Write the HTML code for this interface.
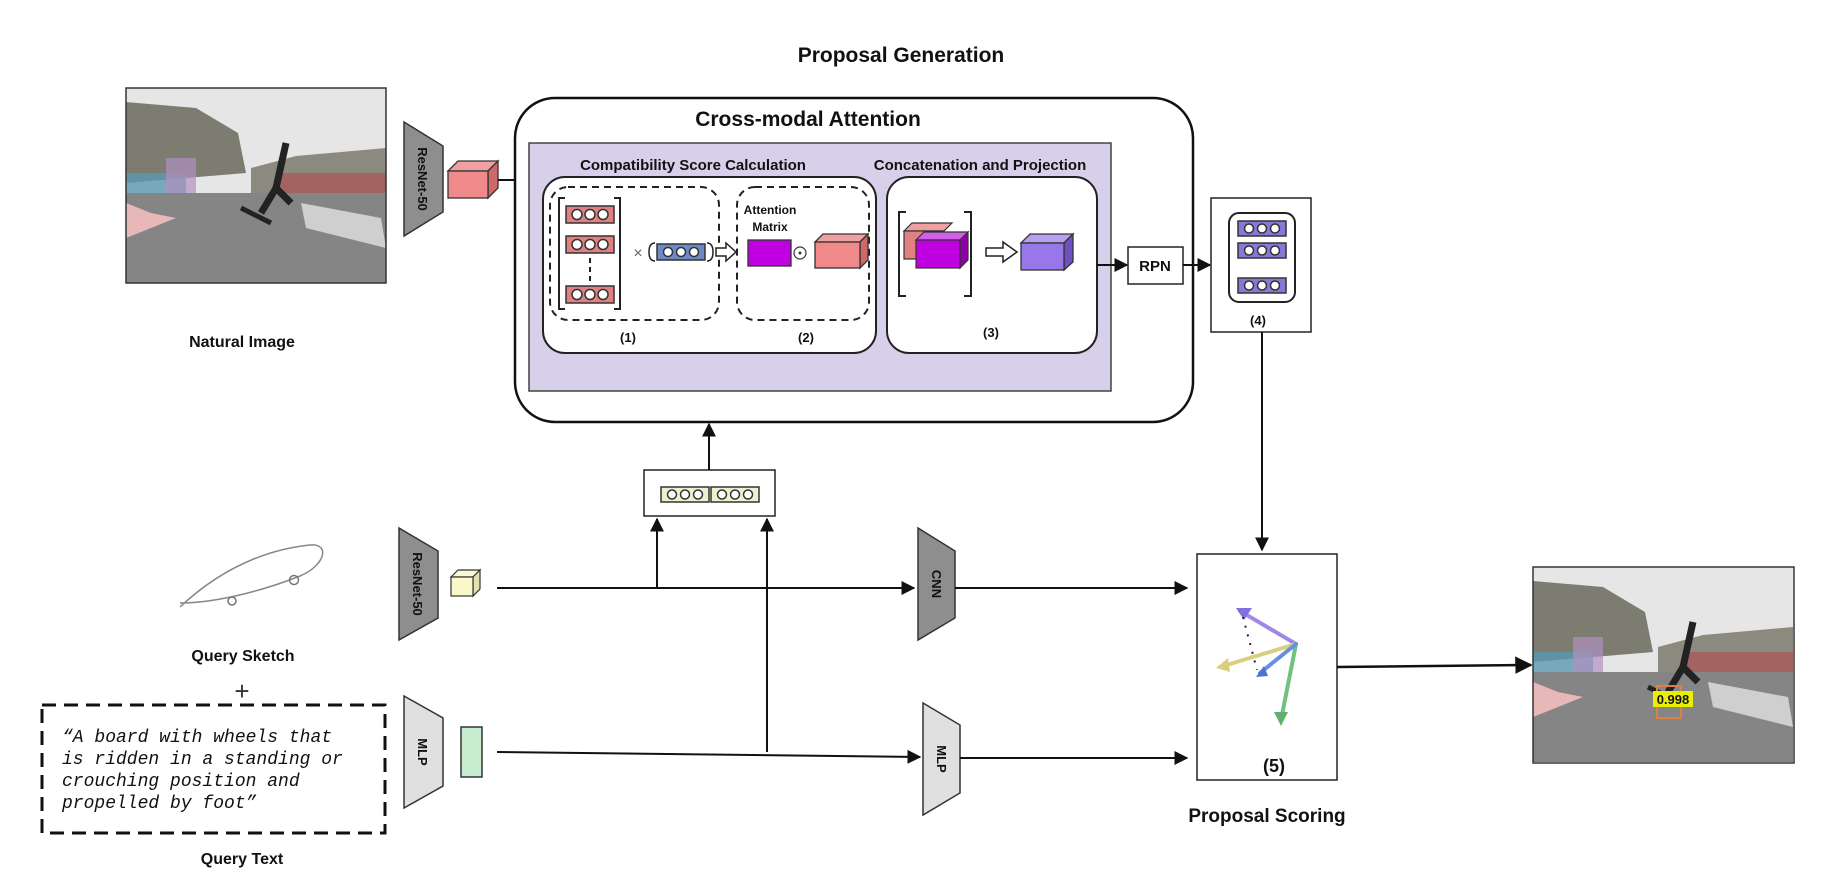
<!DOCTYPE html>
<html><head><meta charset="utf-8"><style>
html,body{margin:0;padding:0;background:#fff;}
svg{display:block;}
.b{font-family:"Liberation Sans",sans-serif;font-weight:bold;fill:#111;}
</style></head><body>
<svg width="1826" height="890" viewBox="0 0 1826 890" xmlns="http://www.w3.org/2000/svg">
<defs>
<marker id="ar" viewBox="0 0 10 10" refX="9" refY="5" markerWidth="7" markerHeight="7" orient="auto-start-reverse"><path d="M0,0 L10,5 L0,10 z" fill="#111"/></marker>
<g id="photo">
<rect x="0" y="0" width="260" height="195" fill="#e6e6e6"/>
<polygon points="0,14 70,20 112,45 120,85 0,95" fill="#7c7c70"/>
<polygon points="125,80 170,68 260,60 260,105 125,105" fill="#8c8a7e"/>
<rect x="150" y="85" width="110" height="25" fill="#a85a5a" opacity="0.8"/>
<rect x="0" y="85" width="60" height="25" fill="#5a9ab0" opacity="0.8"/>
<rect x="40" y="70" width="30" height="35" fill="#b090c0" opacity="0.7"/>
<rect x="0" y="105" width="260" height="90" fill="#858585"/>
<polygon points="0,115 25,125 50,130 0,150" fill="#e8b8b8"/>
<polygon points="175,115 255,130 260,160 180,140" fill="#cfcfcf"/>
<path d="M160,55 L150,100 L135,125 M150,100 L165,115" stroke="#222" stroke-width="7" fill="none"/>
<line x1="115" y1="120" x2="145" y2="135" stroke="#222" stroke-width="5"/>
</g>
<g id="row"><rect x="0" y="0" width="48" height="17" fill="#e08080" stroke="#333" stroke-width="1.5"/><circle cx="11" cy="8.5" r="5" fill="#fff" stroke="#333" stroke-width="1.5"/><circle cx="24" cy="8.5" r="5" fill="#fff" stroke="#333" stroke-width="1.5"/><circle cx="37" cy="8.5" r="5" fill="#fff" stroke="#333" stroke-width="1.5"/></g>
<g id="prow"><rect x="0" y="0" width="48" height="15" fill="#8a78d8" stroke="#333" stroke-width="1.5"/><circle cx="11" cy="7.5" r="4.5" fill="#fff" stroke="#333" stroke-width="1.5"/><circle cx="24" cy="7.5" r="4.5" fill="#fff" stroke="#333" stroke-width="1.5"/><circle cx="37" cy="7.5" r="4.5" fill="#fff" stroke="#333" stroke-width="1.5"/></g>
<g id="yrow"><rect x="0" y="0" width="48" height="15" fill="#eef0d0" stroke="#333" stroke-width="1.5"/><circle cx="11" cy="7.5" r="4.5" fill="#fff" stroke="#333" stroke-width="1.5"/><circle cx="24" cy="7.5" r="4.5" fill="#fff" stroke="#333" stroke-width="1.5"/><circle cx="37" cy="7.5" r="4.5" fill="#fff" stroke="#333" stroke-width="1.5"/></g>
</defs>

<text class="b" x="901" y="62" font-size="21" text-anchor="middle">Proposal Generation</text>

<!-- natural image -->
<g transform="translate(126,88)"><use href="#photo"/></g>
<rect x="126" y="88" width="260" height="195" fill="none" stroke="#333" stroke-width="1.5"/>
<text class="b" x="242" y="347" font-size="16" text-anchor="middle">Natural Image</text>

<!-- ResNet top -->
<polygon points="404,122 443,146 443,212 404,236" fill="#8e8e8e" stroke="#333" stroke-width="1.5"/>
<text class="b" x="0" y="0" font-size="13" text-anchor="middle" transform="translate(418,179) rotate(90)">ResNet-50</text>
<!-- pink cube -->
<polygon points="448,171 458,161 498,161 488,171" fill="#f0a0a0" stroke="#333" stroke-width="1.3"/>
<polygon points="488,171 498,161 498,188 488,198" fill="#d06868" stroke="#333" stroke-width="1.3"/>
<rect x="448" y="171" width="40" height="27" fill="#f08a8a" stroke="#333" stroke-width="1.3"/>
<line x1="498" y1="180" x2="515" y2="180" stroke="#111" stroke-width="2"/>

<!-- outer box -->
<rect x="515" y="98" width="678" height="324" rx="40" fill="#fff" stroke="#111" stroke-width="2.5"/>
<text class="b" x="808" y="126" font-size="21" text-anchor="middle">Cross-modal Attention</text>
<rect x="529" y="143" width="582" height="248" fill="#d8d0ea" stroke="#444" stroke-width="1.5"/>
<text class="b" x="693" y="170" font-size="15" text-anchor="middle">Compatibility Score Calculation</text>
<text class="b" x="980" y="170" font-size="15" text-anchor="middle">Concatenation and Projection</text>
<rect x="543" y="177" width="333" height="176" rx="22" fill="#fff" stroke="#222" stroke-width="2"/>
<rect x="887" y="177" width="210" height="176" rx="22" fill="#fff" stroke="#222" stroke-width="2"/>
<rect x="550" y="187" width="169" height="133" rx="18" fill="none" stroke="#222" stroke-width="2" stroke-dasharray="7,5"/>
<rect x="737" y="187" width="132" height="133" rx="18" fill="none" stroke="#222" stroke-width="2" stroke-dasharray="7,5"/>
<!-- bracket -->
<path d="M565,198 L559,198 L559,309 L565,309 M614,198 L620,198 L620,309 L614,309" fill="none" stroke="#222" stroke-width="2"/>
<use href="#row" x="566" y="206"/><use href="#row" x="566" y="236"/><use href="#row" x="566" y="286"/>
<line x1="590" y1="258" x2="590" y2="282" stroke="#222" stroke-width="2" stroke-dasharray="5,4"/>
<text x="638" y="258" font-family="Liberation Sans,sans-serif" font-size="16" fill="#666" text-anchor="middle">×</text>
<path d="M655,243 Q649,243 649,252 Q649,261 655,261 M707,243 Q713,243 713,252 Q713,261 707,261" fill="none" stroke="#222" stroke-width="1.5"/>
<rect x="657" y="244" width="48" height="16" fill="#6c8ac8" stroke="#333" stroke-width="1.5"/>
<circle cx="668" cy="252" r="4.5" fill="#fff" stroke="#333" stroke-width="1.5"/><circle cx="681" cy="252" r="4.5" fill="#fff" stroke="#333" stroke-width="1.5"/><circle cx="694" cy="252" r="4.5" fill="#fff" stroke="#333" stroke-width="1.5"/>
<path d="M716,248 L726,248 L726,243 L736,252 L726,261 L726,256 L716,256 z" fill="#fff" stroke="#222" stroke-width="1.5"/>
<text class="b" x="770" y="214" font-size="12" text-anchor="middle">Attention</text>
<text class="b" x="770" y="231" font-size="12" text-anchor="middle">Matrix</text>
<rect x="748" y="240" width="43" height="26" fill="#c000e0" stroke="#333" stroke-width="1.3"/>
<circle cx="800" cy="253" r="6" fill="none" stroke="#333" stroke-width="1.2"/><circle cx="800" cy="253" r="1.5" fill="#333"/>
<polygon points="815,242 823,234 868,234 860,242" fill="#f0a0a0" stroke="#333" stroke-width="1.3"/>
<polygon points="860,242 868,234 868,260 860,268" fill="#d06868" stroke="#333" stroke-width="1.3"/>
<rect x="815" y="242" width="45" height="26" fill="#f08a8a" stroke="#333" stroke-width="1.3"/>
<text class="b" x="628" y="342" font-size="13" text-anchor="middle">(1)</text>
<text class="b" x="806" y="342" font-size="13" text-anchor="middle">(2)</text>
<text class="b" x="991" y="337" font-size="13" text-anchor="middle">(3)</text>
<!-- box 3 -->
<path d="M906,212 L899,212 L899,296 L906,296 M964,212 L971,212 L971,296 L964,296" fill="none" stroke="#222" stroke-width="2"/>
<polygon points="904,231 912,223 952,223 944,231" fill="#f0a0a0" stroke="#333" stroke-width="1.2"/>
<rect x="904" y="231" width="40" height="28" fill="#e08080" stroke="#333" stroke-width="1.2"/>
<polygon points="916,240 924,232 968,232 960,240" fill="#d060e8" stroke="#333" stroke-width="1.2"/>
<polygon points="960,240 968,232 968,260 960,268" fill="#9000a8" stroke="#333" stroke-width="1.2"/>
<rect x="916" y="240" width="44" height="28" fill="#c000e0" stroke="#333" stroke-width="1.2"/>
<path d="M986,248 L1003,248 L1003,242 L1017,252 L1003,262 L1003,256 L986,256 z" fill="#fff" stroke="#222" stroke-width="1.5"/>
<polygon points="1021,243 1030,234 1073,234 1064,243" fill="#b8a0f0" stroke="#333" stroke-width="1.3"/>
<polygon points="1064,243 1073,234 1073,262 1064,270" fill="#7050c0" stroke="#333" stroke-width="1.3"/>
<rect x="1021" y="243" width="43" height="27" fill="#9878e8" stroke="#333" stroke-width="1.3"/>
<line x1="1097" y1="265" x2="1127" y2="265" stroke="#111" stroke-width="2" marker-end="url(#ar)"/>
<rect x="1128" y="247" width="55" height="37" fill="#fff" stroke="#222" stroke-width="1.5"/>
<text class="b" x="1155" y="271" font-size="15" text-anchor="middle">RPN</text>
<line x1="1183" y1="265" x2="1210" y2="265" stroke="#111" stroke-width="2" marker-end="url(#ar)"/>
<!-- (4) -->
<rect x="1211" y="198" width="100" height="134" fill="#fff" stroke="#222" stroke-width="1.5"/>
<rect x="1229" y="213" width="66" height="89" rx="10" fill="#fff" stroke="#222" stroke-width="2"/>
<use href="#prow" x="1238" y="221"/><use href="#prow" x="1238" y="243"/><use href="#prow" x="1238" y="278"/>
<text class="b" x="1258" y="325" font-size="13" text-anchor="middle">(4)</text>
<line x1="1262" y1="332" x2="1262" y2="550" stroke="#111" stroke-width="2" marker-end="url(#ar)"/>

<!-- concat -->
<rect x="644" y="470" width="131" height="46" fill="#fff" stroke="#222" stroke-width="1.5"/>
<use href="#yrow" x="661" y="487"/><use href="#yrow" x="711" y="487"/>
<line x1="709" y1="470" x2="709" y2="424" stroke="#111" stroke-width="2" marker-end="url(#ar)"/>

<!-- sketch -->
<path d="M180,607 C230,560 280,548 310,545 C330,543 326,565 300,576 C270,588 220,603 180,603" fill="none" stroke="#888" stroke-width="1.5"/>
<circle cx="232" cy="601" r="4" fill="none" stroke="#777" stroke-width="1.5"/><circle cx="294" cy="580" r="4.5" fill="none" stroke="#777" stroke-width="1.5"/>
<text class="b" x="243" y="661" font-size="16" text-anchor="middle">Query Sketch</text>
<text x="242" y="700" font-family="Liberation Sans,sans-serif" font-size="26" fill="#333" text-anchor="middle">+</text>
<rect x="42" y="705" width="343" height="128" fill="#fff" stroke="#111" stroke-width="3" stroke-dasharray="14,8"/>
<g font-family="Liberation Mono,monospace" font-style="italic" font-size="18" fill="#111">
<text x="62" y="742">“A board with wheels that</text>
<text x="62" y="764">is ridden in a standing or</text>
<text x="62" y="786">crouching position and</text>
<text x="62" y="808">propelled by foot”</text>
</g>
<text class="b" x="242" y="864" font-size="16" text-anchor="middle">Query Text</text>

<!-- ResNet bottom -->
<polygon points="399,528 438,551 438,618 399,640" fill="#8e8e8e" stroke="#333" stroke-width="1.5"/>
<text class="b" font-size="13" text-anchor="middle" transform="translate(413,584) rotate(90)">ResNet-50</text>
<polygon points="451,577 458,570 480,570 473,577" fill="#f8f8d8" stroke="#333" stroke-width="1.2"/>
<polygon points="473,577 480,570 480,589 473,596" fill="#e0e0b0" stroke="#333" stroke-width="1.2"/>
<rect x="451" y="577" width="22" height="19" fill="#f8f8c8" stroke="#333" stroke-width="1.2"/>
<line x1="497" y1="588" x2="914" y2="588" stroke="#111" stroke-width="2" marker-end="url(#ar)"/>
<line x1="657" y1="588" x2="657" y2="519" stroke="#111" stroke-width="2" marker-end="url(#ar)"/>
<line x1="767" y1="752" x2="767" y2="519" stroke="#111" stroke-width="2" marker-end="url(#ar)"/>
<polygon points="918,528 955,551 955,618 918,640" fill="#8e8e8e" stroke="#333" stroke-width="1.5"/>
<text class="b" font-size="13" text-anchor="middle" transform="translate(932,584) rotate(90)">CNN</text>
<line x1="955" y1="588" x2="1187" y2="588" stroke="#111" stroke-width="2" marker-end="url(#ar)"/>

<!-- MLP -->
<polygon points="404,696 443,718 443,786 404,808" fill="#e0e0e0" stroke="#333" stroke-width="1.5"/>
<text class="b" font-size="13" text-anchor="middle" transform="translate(418,752) rotate(90)">MLP</text>
<rect x="461" y="727" width="21" height="50" fill="#c8ecd0" stroke="#333" stroke-width="1.5"/>
<line x1="497" y1="752" x2="920" y2="757" stroke="#111" stroke-width="2" marker-end="url(#ar)"/>
<polygon points="923,703 960,725 960,793 923,815" fill="#e0e0e0" stroke="#333" stroke-width="1.5"/>
<text class="b" font-size="13" text-anchor="middle" transform="translate(937,759) rotate(90)">MLP</text>
<line x1="960" y1="758" x2="1187" y2="758" stroke="#111" stroke-width="2" marker-end="url(#ar)"/>

<!-- scoring -->
<rect x="1197" y="554" width="140" height="226" fill="#fff" stroke="#222" stroke-width="1.5"/>
<g stroke-width="4" fill="none" stroke-linecap="round">
<line x1="1296" y1="644" x2="1240" y2="611" stroke="#a088e8"/>
<line x1="1296" y1="644" x2="1220" y2="667" stroke="#d8d080"/>
<line x1="1296" y1="644" x2="1281" y2="720" stroke="#70c080"/>
<line x1="1296" y1="644" x2="1260" y2="673" stroke="#6890e0"/>
</g>
<polygon points="1236,608 1252,608 1244,620" fill="#8070e0"/>
<polygon points="1216,668 1228,658 1230,672" fill="#d8d080"/>
<polygon points="1274,712 1288,712 1281,726" fill="#60b070"/>
<polygon points="1256,677 1264,666 1268,676" fill="#5070d0"/>
<line x1="1243" y1="617" x2="1257" y2="670" stroke="#222" stroke-width="2" stroke-dasharray="2,7"/>
<text class="b" x="1274" y="772" font-size="18" text-anchor="middle">(5)</text>
<text class="b" x="1267" y="822" font-size="19" text-anchor="middle">Proposal Scoring</text>
<line x1="1337" y1="667" x2="1531" y2="665" stroke="#111" stroke-width="2.5" marker-end="url(#ar)"/>

<!-- output image -->
<g transform="translate(1533,567)"><use href="#photo"/></g>
<rect x="1657" y="686" width="24" height="32" fill="none" stroke="#e08040" stroke-width="2"/>
<rect x="1653" y="691" width="40" height="16" fill="#e8f000"/>
<text class="b" x="1673" y="704" font-size="13" text-anchor="middle">0.998</text>
<rect x="1533" y="567" width="261" height="196" fill="none" stroke="#333" stroke-width="1.5"/>
</svg>
</body></html>
